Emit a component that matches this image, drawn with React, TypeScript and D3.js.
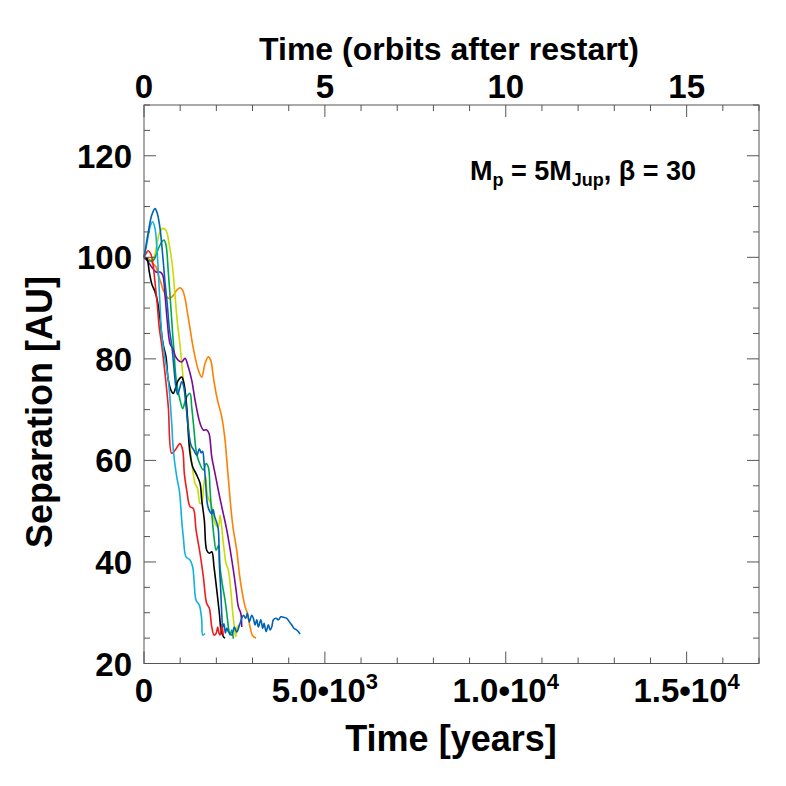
import React from 'react';
import * as d3 from 'd3';

type P = [number, number];

// Time in years, separation in AU
const cyanSeries: P[] = [[0,100],[60,102],[119,104.3],[190,106.5],[240,107],[304,105.7],[351,102.4],[396,97.1],[443,90.6],[490,84.7],[560,81],[672,75.8],[766,67.3],[811,62],[904,56.8],[976,54.1],[1010,51.5],[1043,48.2],[1087,44.9],[1162,41],[1272,40.4],[1347,39],[1383,36.4],[1438,32.5],[1530,31.5],[1596,28.6],[1624,25.6],[1687,25.9]];
const redSeries: P[] = [[0,100],[60,100.8],[119,101.3],[185,100.7],[240,99.1],[304,95.1],[368,90.6],[423,86],[490,82.7],[581,77.1],[672,70.5],[766,61.4],[857,62],[996,63.3],[1070,62],[1115,57.4],[1181,54.1],[1272,50.9],[1364,50.5],[1438,46.3],[1549,41.7],[1640,37.1],[1734,31.8],[1806,30.9],[1873,27.2],[1936,25.6],[1992,25.9],[2039,27.2],[2070,26],[2102,25.6],[2149,27.6],[2193,25.5]];
const blackSeries: P[] = [[0,100],[74,99.8],[147,97.1],[213,94.8],[304,93.2],[368,91.5],[443,87.9],[490,84.7],[534,82.7],[608,80.4],[672,75.8],[766,73.5],[810,73.2],[949,75.8],[1043,76.4],[1106,75.1],[1181,70.5],[1225,65.3],[1272,61.4],[1347,58.7],[1438,57.4],[1549,55.5],[1596,52.2],[1668,48.2],[1734,42.3],[1806,41.7],[1873,42],[1936,39],[2011,34.5],[2083,29.9],[2130,26.6],[2193,25.3],[2240,25]];
const purpleSeries: P[] = [[0,100],[119,99.1],[213,98.1],[332,97.1],[443,97.1],[517,96.5],[581,92.5],[645,87.3],[719,83],[800,82],[870,80.5],[949,79.7],[1043,79.4],[1134,80.1],[1225,78.4],[1319,75.8],[1411,71.9],[1549,67.3],[1640,66],[1734,66],[1798,65.3],[1873,60.7],[1964,57.4],[2055,54.1],[2149,50.9],[2288,46.3],[2398,41.7],[2470,38.4],[2545,34.5],[2608,31.2],[2675,29.9],[2702,27.2]];
const greenSeries: P[] = [[0,100],[60,99.7],[119,99.4],[257,99.4],[396,101.7],[490,103],[553,103.4],[608,102.4],[672,97.1],[738,90.6],[794,84.7],[830,81.5],[857,78.4],[904,75.1],[996,71.9],[1070,70.2],[1130,71.5],[1181,72.5],[1272,73.2],[1319,70.5],[1383,66],[1438,62],[1502,60.1],[1640,58.1],[1715,59.4],[1778,58.7],[1826,54.1],[1873,49.5],[1936,44.9],[1992,42.3],[2030,42.8],[2066,43.3],[2102,39],[2177,35.1],[2240,32.5],[2288,29.9],[2332,27.2],[2379,25.6],[2426,26.6],[2470,24.9]];
const yellowSeries: P[] = [[0,100],[119,99.4],[257,99.8],[351,102.4],[423,104.7],[517,105.7],[608,105.3],[700,102.4],[794,97.8],[857,92.5],[921,87.3],[996,82.7],[1070,77.1],[1134,72.5],[1225,67.3],[1272,62.7],[1347,58.1],[1411,55.5],[1480,54.5],[1549,51.5],[1600,51.8],[1650,55],[1700,57],[1760,53],[1873,50.9],[1964,47.6],[2055,46.9],[2102,49.2],[2193,43.7],[2268,39.7],[2332,38.4],[2398,34.5],[2453,29.9],[2498,27.2],[2536,25.3],[2581,27.2],[2628,27.6]];
const orangeSeries: P[] = [[0,100],[119,99.8],[240,98.8],[332,98.1],[396,96.5],[462,95.1],[534,93.5],[628,92.2],[700,91.9],[811,92.5],[904,93.5],[996,94],[1070,93.5],[1134,91.9],[1198,89.2],[1272,86],[1347,82.7],[1411,80.4],[1502,77.8],[1596,76.4],[1687,79.1],[1778,80.4],[1845,79.7],[1917,76.4],[1992,73.2],[2055,71.2],[2149,68.6],[2240,64],[2304,58.7],[2360,54.1],[2398,50.9],[2470,46.3],[2564,42.3],[2636,37.7],[2702,34.5],[2794,31.2],[2857,29.9],[2932,27.2],[3007,25.4],[3098,25]];
const blueSeries: P[] = [[0,100],[60,102.5],[119,105],[213,108.3],[304,109.6],[370,108.6],[443,105.7],[517,100.4],[581,95.1],[645,90.6],[700,86],[766,82.7],[830,78],[880,74.5],[930,73],[990,74.3],[1043,75.5],[1100,74.5],[1160,71],[1230,66],[1300,63],[1380,62],[1460,61],[1530,62.3],[1580,61.5],[1620,61.8],[1660,59.5],[1700,56],[1750,51.5],[1800,50.2],[1873,49.5],[1910,50.3],[1950,49],[2020,47.5],[2055,46.3],[2083,39.7],[2121,34.5],[2149,29.9],[2177,27.2],[2210,27.8],[2250,26],[2290,27],[2332,26.3],[2426,25.6],[2498,27.2],[2564,26.2],[2655,27.9],[2747,29.5],[2813,28.9],[2857,29.9],[2913,28.2],[2979,29.5],[3023,28.9],[3070,27.6],[3117,28.6],[3162,27.2],[3228,28.6],[3283,26.9],[3319,27.9],[3375,26.3],[3438,27.6],[3485,26.6],[3532,27.2],[3576,28.6],[3651,28.9],[3715,28.6],[3781,29.2],[3853,29.1],[3947,28.9],[4019,28.2],[4085,27.6],[4149,26.9],[4223,26.6],[4315,25.8]];

const seriesList: P[][] = [orangeSeries, yellowSeries, greenSeries, purpleSeries, blackSeries, redSeries, cyanSeries, blueSeries];
const seriesColors = ['#ff8000', '#c8dc00', '#00a550', '#7a0a96', '#000000', '#ee1c1c', '#12b0e0', '#0062b4'];

const sepTicks = [20, 40, 60, 80, 100, 120];
const yearMajor = [0, 5000, 10000, 15000];
const yearLabelBase = ['0', '5.0•10', '1.0•10', '1.5•10'];
const yearLabelExp = ['', '3', '4', '4'];
const orbitMajor = [0, 5, 10, 15];
const orbitLabels = ['0', '5', '10', '15'];

const FONT = '"Liberation Sans", Arial, Helvetica, sans-serif';

export default function App() {
  const L = 144, R = 759, T = 105, B = 663.5;
  const x = d3.scaleLinear().domain([0, 17000]).range([L, R]);
  const xo = d3.scaleLinear().domain([0, 17]).range([L, R]);
  const y = d3.scaleLinear().domain([20, 130]).range([B, T]);
  const line = d3.line<P>().x(d => x(d[0])).y(d => y(d[1])).curve(d3.curveCatmullRom.alpha(0.5));

  const yMinor = d3.range(20, 131, 5);
  const xMinor = d3.range(0, 17001, 1000);
  const oMinor = d3.range(0, 18, 1);
  const axisColor = '#555';

  return (
    <svg width={786} height={786} style={{ position: 'absolute', left: 0, top: 0, background: '#fff' }} fontFamily={FONT}>
      <rect x={0} y={0} width={786} height={786} fill="#fff" />
      <g fill="none" strokeWidth={1.6} strokeLinejoin="round">
        {seriesList.map((s, i) => (
          <path key={i} d={line(s) || ''} stroke={seriesColors[i]} />
        ))}
      </g>
      <g stroke={axisColor} strokeWidth={1}>
        <rect x={L} y={T} width={R - L} height={B - T} fill="none" />
        {yMinor.map(v => {
          const len = v % 20 === 0 ? 12 : 6;
          return (
            <g key={'y' + v}>
              <line x1={L} x2={L + len} y1={y(v)} y2={y(v)} />
              <line x1={R} x2={R - len} y1={y(v)} y2={y(v)} />
            </g>
          );
        })}
        {xMinor.map(v => {
          const len = v % 5000 === 0 ? 12 : 6;
          return <line key={'x' + v} x1={x(v)} x2={x(v)} y1={B} y2={B - len} />;
        })}
        {oMinor.map(v => {
          const len = v % 5 === 0 ? 12 : 6;
          return <line key={'o' + v} x1={xo(v)} x2={xo(v)} y1={T} y2={T + len} />;
        })}
      </g>
      <g fontWeight="bold" fontSize={33} fill="#000">
        {sepTicks.map(v => (
          <text key={'yl' + v} x={132} y={y(v) + 12} textAnchor="end">{v}</text>
        ))}
        {yearMajor.map((v, i) => (
          <text key={'xl' + v} x={x(v)} y={702} textAnchor="middle">
            {yearLabelBase[i]}
            {yearLabelExp[i] ? <tspan fontSize={22} dy={-13}>{yearLabelExp[i]}</tspan> : null}
          </text>
        ))}
        {orbitMajor.map((v, i) => (
          <text key={'ol' + v} x={xo(v)} y={98} textAnchor="middle">{orbitLabels[i]}</text>
        ))}
        <text x={449} y={60} textAnchor="middle" fontSize={32}>Time (orbits after restart)</text>
        <text x={451} y={751} textAnchor="middle" fontSize={36}>Time [years]</text>
        <text transform="translate(52,412) rotate(-90)" textAnchor="middle" fontSize={36}>Separation [AU]</text>
        <text x={470} y={180} fontSize={27}>
          M<tspan fontSize={18} dy={6}>p</tspan>
          <tspan dy={-6}> = 5M</tspan>
          <tspan fontSize={18} dy={6}>Jup</tspan>
          <tspan dy={-6}>, β = 30</tspan>
        </text>
      </g>
    </svg>
  );
}
